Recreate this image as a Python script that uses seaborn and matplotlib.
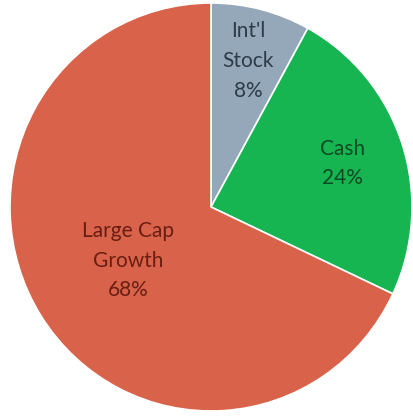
import numpy as np
import matplotlib
matplotlib.use("Agg")
import matplotlib.pyplot as plt
import seaborn as sns

# Portfolio allocation
categories = ["Int'l\nStock", "Cash", "Large Cap\nGrowth"]
shares = [8, 24, 68]
colors = ["#95a8b9", "#16b552", "#d9624a"]
text_colors = ["#2e3b48", "#0b4a22", "#6a1e12"]
label_radius = [0.74, 0.69, 0.49]

sns.set_theme(style="white")
plt.rcParams["font.family"] = ["Lato", "DejaVu Sans"]

fig = plt.figure(figsize=(4.14, 4.19), dpi=100)
ax = fig.add_axes([0, 0, 1, 1])

palette = sns.color_palette(colors)
wedges, _ = ax.pie(
    shares,
    colors=palette,
    startangle=90,
    counterclock=False,
    wedgeprops=dict(edgecolor="white", linewidth=1.2),
)

# labels placed at each wedge's mid angle
total = float(sum(shares))
start = 90.0
for name, val, r, tc in zip(categories, shares, label_radius, text_colors):
    sweep = 360.0 * val / total
    mid = np.deg2rad(start - sweep / 2)
    start -= sweep
    ax.text(r * np.cos(mid), r * np.sin(mid), f"{name}\n{val}%",
            ha="center", va="center", fontsize=15, color=tc,
            linespacing=1.62)

ax.set_aspect("auto")
ax.set_xlim(-211 / 201, (414 - 211) / 201)
ax.set_ylim(-212 / 204, (419 - 212) / 204)
ax.axis("off")

fig.savefig("out.png", dpi=100, facecolor="white")
